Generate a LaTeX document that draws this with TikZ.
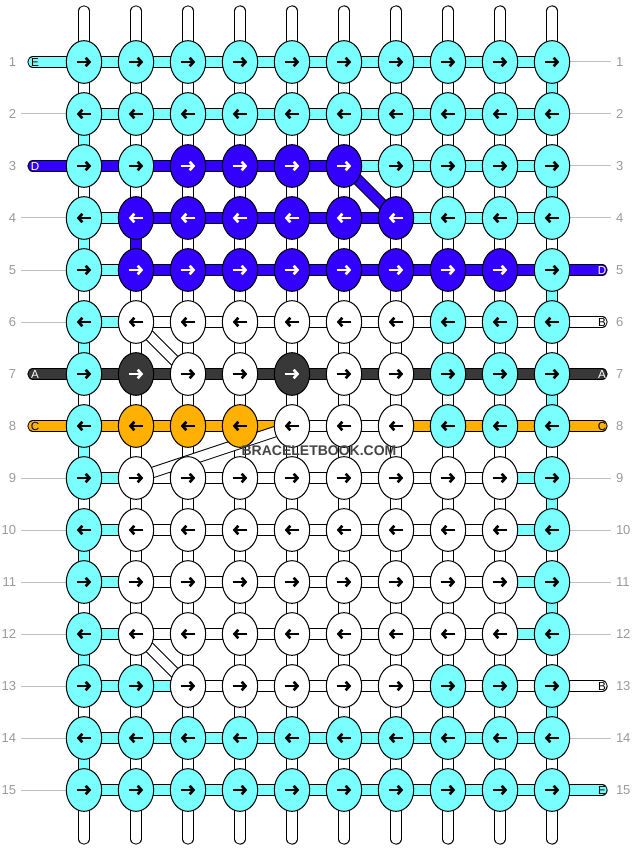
\documentclass[tikz,border=0pt]{standalone}
\usepackage{fontspec}
\setmainfont{Liberation Sans}
\usetikzlibrary{shapes.geometric,arrows.meta}

\definecolor{cyn}{HTML}{7AFFFF}
\definecolor{blu}{HTML}{3300FF}
\definecolor{drk}{HTML}{383838}
\definecolor{orn}{HTML}{FFB000}
\definecolor{wht}{HTML}{FFFFFF}
\definecolor{numgray}{HTML}{999999}
\definecolor{linegray}{HTML}{C0C0C0}
\definecolor{markgray}{HTML}{444444}

\pgfdeclarelayer{strings}
\pgfsetlayers{strings,main}

\tikzset{
  knot/.style={ellipse, draw=black, line width=0.75pt, inner sep=0pt,
    minimum width=26.5pt, minimum height=32pt,
    path picture={\draw[line width=2pt, draw=\ac, -{Straight Barb[length=2.8pt,width=6.4pt]}]
      ([xshift=\ax]path picture bounding box.center) -- ([xshift=\bx]path picture bounding box.center);}},
  cyn/.style={knot, fill=cyn, /utils/exec={\def\ac{black}}},
  blu/.style={knot, fill=blu, /utils/exec={\def\ac{white}}},
  drk/.style={knot, fill=drk, /utils/exec={\def\ac{white}}},
  orn/.style={knot, fill=orn, /utils/exec={\def\ac{black}}},
  wht/.style={knot, fill=wht, /utils/exec={\def\ac{black}}},
  toR/.style={/utils/exec={\def\ax{-5.4pt}\def\bx{5.4pt}}},
  toL/.style={/utils/exec={\def\ax{5.4pt}\def\bx{-5.4pt}}},
  seg/.style={draw=black, line width=0.75pt, double=#1, double distance=7pt},
  stub/.style={seg=#1, line cap=round},
  rod/.style={draw=black, line width=0.75pt, double=white, double distance=7pt, line cap=round},
  rodmid/.style={draw=gray!45, line width=0.4pt, double=white, double distance=0.8pt},
  tag/.style={font=\fontsize{8.75}{9}\selectfont, inner sep=0pt},
  rownum/.style={font=\fontsize{9.75}{10}\selectfont, text=numgray, inner sep=0pt, outer sep=3.75pt},
  guide/.style={draw=linegray, line width=0.75pt},
}

\begin{document}
\begin{tikzpicture}[x=0.75pt, y=-0.75pt]
\useasboundingbox (0,0) rectangle (636,852);

% Knots
% -----
\foreach \k [count=\c] in {cyn,cyn,cyn,cyn,cyn,cyn,cyn,cyn,cyn,cyn} \node[\k,toR] (k1-\c) at ({32+52*\c},62) {};
\foreach \k [count=\c] in {cyn,cyn,cyn,cyn,cyn,cyn,cyn,cyn,cyn,cyn} \node[\k,toL] (k2-\c) at ({32+52*\c},114) {};
\foreach \k [count=\c] in {cyn,cyn,blu,blu,blu,blu,cyn,cyn,cyn,cyn} \node[\k,toR] (k3-\c) at ({32+52*\c},166) {};
\foreach \k [count=\c] in {cyn,blu,blu,blu,blu,blu,blu,cyn,cyn,cyn} \node[\k,toL] (k4-\c) at ({32+52*\c},218) {};
\foreach \k [count=\c] in {cyn,blu,blu,blu,blu,blu,blu,blu,blu,cyn} \node[\k,toR] (k5-\c) at ({32+52*\c},270) {};
\foreach \k [count=\c] in {cyn,wht,wht,wht,wht,wht,wht,cyn,cyn,cyn} \node[\k,toL] (k6-\c) at ({32+52*\c},322) {};
\foreach \k [count=\c] in {cyn,drk,wht,wht,drk,wht,wht,cyn,cyn,cyn} \node[\k,toR] (k7-\c) at ({32+52*\c},374) {};
\foreach \k [count=\c] in {cyn,orn,orn,orn,wht,wht,wht,cyn,cyn,cyn} \node[\k,toL] (k8-\c) at ({32+52*\c},426) {};
\foreach \k [count=\c] in {cyn,wht,wht,wht,wht,wht,wht,wht,wht,cyn} \node[\k,toR] (k9-\c) at ({32+52*\c},478) {};
\foreach \k [count=\c] in {cyn,wht,wht,wht,wht,wht,wht,wht,wht,cyn} \node[\k,toL] (k10-\c) at ({32+52*\c},530) {};
\foreach \k [count=\c] in {cyn,wht,wht,wht,wht,wht,wht,wht,wht,cyn} \node[\k,toR] (k11-\c) at ({32+52*\c},582) {};
\foreach \k [count=\c] in {cyn,wht,wht,wht,wht,wht,wht,wht,wht,cyn} \node[\k,toL] (k12-\c) at ({32+52*\c},634) {};
\foreach \k [count=\c] in {cyn,cyn,wht,wht,wht,wht,wht,cyn,cyn,cyn} \node[\k,toR] (k13-\c) at ({32+52*\c},686) {};
\foreach \k [count=\c] in {cyn,cyn,cyn,cyn,cyn,cyn,cyn,cyn,cyn,cyn} \node[\k,toL] (k14-\c) at ({32+52*\c},738) {};
\foreach \k [count=\c] in {cyn,cyn,cyn,cyn,cyn,cyn,cyn,cyn,cyn,cyn} \node[\k,toR] (k15-\c) at ({32+52*\c},790) {};

% Row numbers
% -----------
\foreach \r in {1,...,15} {
  \node[rownum, anchor=east] (n\r) at (21,{10+52*\r}) {\r};
  \node[rownum, anchor=west] (m\r) at (611,{10+52*\r}) {\r};
}

% String ends
% -----------
\node[tag]            (sE1) at (35,62)  {E};
\node[tag,text=white] (sD3) at (35,166) {D};
\node[tag,text=white] (sA7) at (35,374) {A};
\node[tag]            (sC8) at (35,426) {C};
\node[tag,text=white] (tD5)  at (602,270) {D};
\node[tag]            (tB6)  at (602,322) {B};
\node[tag,text=white] (tA7)  at (602,374) {A};
\node[tag]            (tC8)  at (602,426) {C};
\node[tag]            (tB13) at (602,686) {B};
\node[tag]            (tE15) at (602,790) {E};

\begin{pgfonlayer}{strings}
  % Base rods
  % ---------
  \foreach \c in {1,...,10} {
    \coordinate (t\c) at ({32+52*\c},11);
    \coordinate (b\c) at ({32+52*\c},839);
    \draw[rod] (t\c) -- (b\c);
    \draw[rodmid] (t\c) -- (b\c);
  }
  \foreach \r [evaluate=\r as \s using int(\r+1)] in {2,4,6,8,10,12,14} \draw[seg=cyn] (k\r-1.center) -- (k\s-1.center);
  \foreach \r [evaluate=\r as \s using int(\r+1)] in {1,3,5,7,9,11,13} \draw[seg=cyn] (k\r-10.center) -- (k\s-10.center);
  \draw[seg=blu] (k4-2.center) -- (k5-2.center);

  % Rows
  % ----
  \foreach \k [count=\a, evaluate=\a as \b using int(\a+1)] in {cyn,cyn,cyn,cyn,cyn,cyn,cyn,cyn,cyn} \draw[seg=\k] (k1-\a.center) -- (k1-\b.center);
  \foreach \k [count=\a, evaluate=\a as \b using int(\a+1)] in {cyn,cyn,cyn,cyn,cyn,cyn,cyn,cyn,cyn} \draw[seg=\k] (k2-\a.center) -- (k2-\b.center);
  \foreach \k [count=\a, evaluate=\a as \b using int(\a+1)] in {blu,blu,blu,blu,blu,cyn,cyn,cyn,cyn} \draw[seg=\k] (k3-\a.center) -- (k3-\b.center);
  \foreach \k [count=\a, evaluate=\a as \b using int(\a+1)] in {cyn,blu,blu,blu,blu,blu,cyn,cyn,cyn} \draw[seg=\k] (k4-\a.center) -- (k4-\b.center);
  \foreach \k [count=\a, evaluate=\a as \b using int(\a+1)] in {cyn,blu,blu,blu,blu,blu,blu,blu,blu} \draw[seg=\k] (k5-\a.center) -- (k5-\b.center);
  \foreach \k [count=\a, evaluate=\a as \b using int(\a+1)] in {cyn,wht,wht,wht,wht,wht,wht,wht,wht} \draw[seg=\k] (k6-\a.center) -- (k6-\b.center);
  \foreach \k [count=\a, evaluate=\a as \b using int(\a+1)] in {drk,drk,drk,drk,drk,drk,drk,drk,drk} \draw[seg=\k] (k7-\a.center) -- (k7-\b.center);
  \foreach \k [count=\a, evaluate=\a as \b using int(\a+1)] in {orn,orn,orn,orn,wht,wht,orn,orn,orn} \draw[seg=\k] (k8-\a.center) -- (k8-\b.center);
  \foreach \k [count=\a, evaluate=\a as \b using int(\a+1)] in {cyn,wht,wht,wht,wht,wht,wht,wht,cyn} \draw[seg=\k] (k9-\a.center) -- (k9-\b.center);
  \foreach \k [count=\a, evaluate=\a as \b using int(\a+1)] in {cyn,wht,wht,wht,wht,wht,wht,wht,cyn} \draw[seg=\k] (k10-\a.center) -- (k10-\b.center);
  \foreach \k [count=\a, evaluate=\a as \b using int(\a+1)] in {cyn,wht,wht,wht,wht,wht,wht,wht,cyn} \draw[seg=\k] (k11-\a.center) -- (k11-\b.center);
  \foreach \k [count=\a, evaluate=\a as \b using int(\a+1)] in {cyn,wht,wht,wht,wht,wht,wht,wht,cyn} \draw[seg=\k] (k12-\a.center) -- (k12-\b.center);
  \foreach \k [count=\a, evaluate=\a as \b using int(\a+1)] in {cyn,cyn,wht,wht,wht,wht,wht,wht,wht} \draw[seg=\k] (k13-\a.center) -- (k13-\b.center);
  \foreach \k [count=\a, evaluate=\a as \b using int(\a+1)] in {cyn,cyn,cyn,cyn,cyn,cyn,cyn,cyn,cyn} \draw[seg=\k] (k14-\a.center) -- (k14-\b.center);
  \foreach \k [count=\a, evaluate=\a as \b using int(\a+1)] in {cyn,cyn,cyn,cyn,cyn,cyn,cyn,cyn,cyn} \draw[seg=\k] (k15-\a.center) -- (k15-\b.center);

  % Ends
  % ----
  \draw[stub=cyn] ([xshift=-1.5pt]sE1.center) -- (k1-1.center);
  \draw[stub=blu] ([xshift=-1.5pt]sD3.center) -- (k3-1.center);
  \draw[stub=drk] ([xshift=-1.5pt]sA7.center) -- (k7-1.center);
  \draw[stub=orn] ([xshift=-1.5pt]sC8.center) -- (k8-1.center);
  \draw[stub=blu] (k5-10.center) -- (tD5.center);
  \draw[stub=wht] (k6-10.center) -- (tB6.center);
  \draw[stub=drk] (k7-10.center) -- (tA7.center);
  \draw[stub=orn] (k8-10.center) -- (tC8.center);
  \draw[stub=wht] (k13-10.center) -- (tB13.center);
  \draw[stub=cyn] (k15-10.center) -- (tE15.center);
  \foreach \r in {2,4,5,6,9,10,11,12,13,14,15} \draw[guide] (n\r) -- (k\r-1);
  \foreach \r in {1,2,3,4,9,10,11,12,14} \draw[guide] (k\r-10) -- (m\r);

  % Crossings
  % ---------
  \draw[seg=blu] (k3-6.center) -- (k4-7.center);
  \draw[seg=wht] (k6-2.center) -- (k7-3.center);
  \draw[seg=wht] (k8-5.center) -- (k9-2.center);
  \draw[seg=wht] (k12-2.center) -- (k13-3.center);
\end{pgfonlayer}

% Mark
% ----
\node[font=\bfseries\fontsize{10.5}{12}\selectfont, text=markgray, inner sep=0pt] (mark) at (319,451) {BRACELETBOOK.COM};

\end{tikzpicture}
\end{document}
